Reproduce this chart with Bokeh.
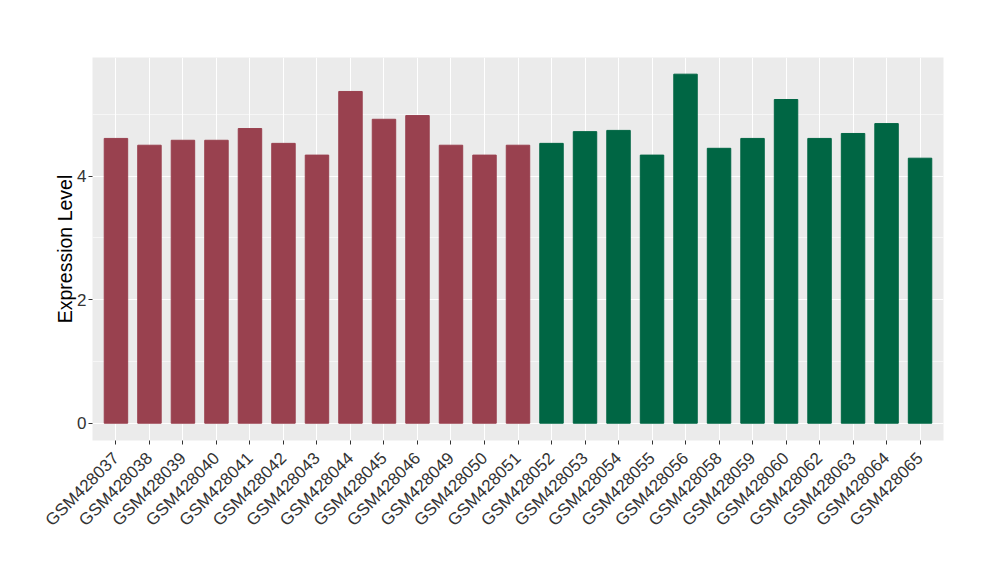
import math
from bokeh.plotting import figure
from bokeh.models import FactorRange, Range1d, FixedTicker, ColumnDataSource
from bokeh.embed import file_html
from bokeh.resources import INLINE

samples = ["GSM428037", "GSM428038", "GSM428039", "GSM428040", "GSM428041",
           "GSM428042", "GSM428043", "GSM428044", "GSM428045", "GSM428046",
           "GSM428049", "GSM428050", "GSM428051", "GSM428052", "GSM428053",
           "GSM428054", "GSM428055", "GSM428056", "GSM428058", "GSM428059",
           "GSM428060", "GSM428062", "GSM428063", "GSM428064", "GSM428065"]
values = [4.61, 4.50, 4.58, 4.58, 4.77, 4.53, 4.34, 5.37, 4.92, 4.98,
          4.50, 4.34, 4.50, 4.53, 4.72, 4.74, 4.34, 5.65, 4.45, 4.61,
          5.24, 4.61, 4.69, 4.85, 4.29]
groups = ["A"] * 13 + ["B"] * 12
group_colors = {"A": "#99414F", "B": "#006644"}
y_ticks = [0, 2, 4]
y_minor = [1, 3, 5]

colors = [group_colors[g] for g in groups]
src = ColumnDataSource(dict(x=samples, top=values, color=colors))

p = figure(x_range=FactorRange(factors=samples, range_padding=0.2,
                               range_padding_units="absolute"),
           y_range=Range1d(-0.28, 5.92),
           frame_width=851, frame_height=383,
           min_border_left=92, min_border_top=57, min_border_right=57,
           min_border_bottom=20,
           output_backend="svg", toolbar_location=None)

p.vbar(x="x", top="top", bottom=0, width=0.7, color="color", source=src)

p.background_fill_color = "#EBEBEB"
p.border_fill_color = "white"
p.outline_line_color = None

p.xgrid.grid_line_color = "white"
p.xgrid.grid_line_width = 1.1
p.ygrid.grid_line_color = "white"
p.ygrid.grid_line_width = 1.1
p.ygrid.minor_grid_line_color = "white"
p.ygrid.minor_grid_line_width = 0.55

p.yaxis.ticker = FixedTicker(ticks=y_ticks, minor_ticks=y_minor)
p.yaxis.axis_label = "Expression Level"
p.yaxis.axis_label_text_font = "Liberation Sans"
p.yaxis.axis_label_text_font_size = "19.5px"
p.yaxis.axis_label_text_font_style = "normal"
p.yaxis.axis_label_text_color = "black"
p.yaxis.axis_label_standoff = -2

for ax in (p.xaxis, p.yaxis):
    ax.axis_line_color = None
    ax.major_tick_line_color = "#333333"
    ax.major_tick_out = 4
    ax.major_tick_in = 0
    ax.minor_tick_line_color = None
    ax.major_label_text_font = "Liberation Sans"
    ax.major_label_text_font_size = "17px"
    ax.major_label_text_color = "#333333"
    ax.major_label_standoff = 2

p.xaxis.major_label_standoff = 11
p.xaxis.major_label_orientation = math.pi / 4

open("out.html", "w").write(file_html(p, INLINE))
